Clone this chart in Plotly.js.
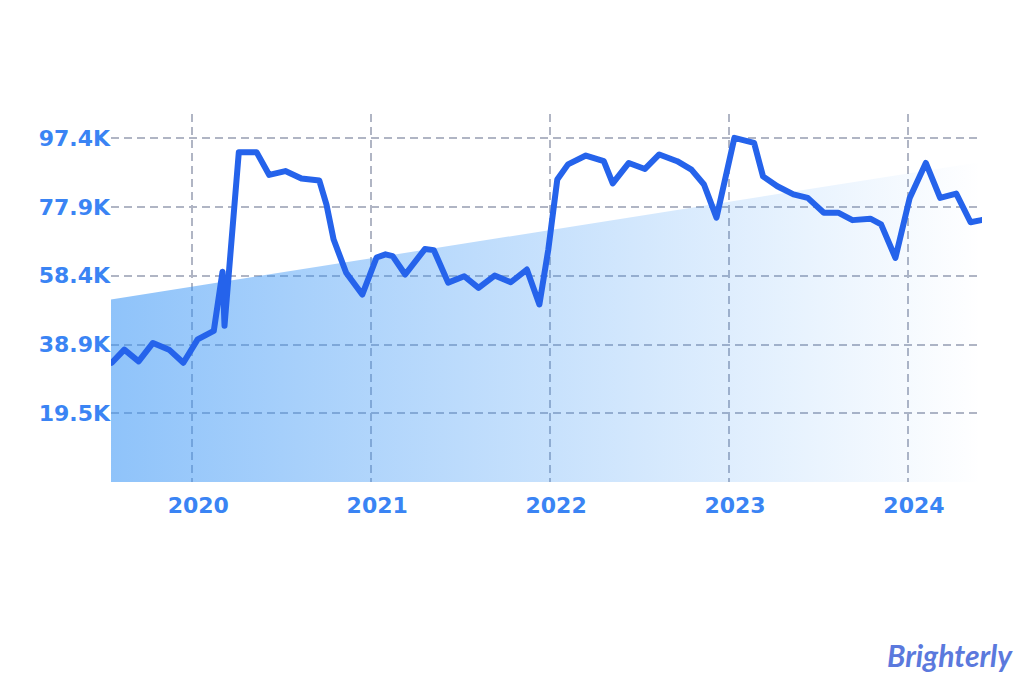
<!DOCTYPE html>
<html>
<head>
<meta charset="utf-8">
<script src="https://cdn.plot.ly/plotly-3.0.1.min.js"></script>
<style>
  html, body { margin: 0; padding: 0; background: #ffffff; }
  #chart { width: 1024px; height: 683px; }
  .scatterlayer path.js-line { stroke-linejoin: round; stroke-linecap: round; }
</style>
</head>
<body>
<div id="chart"></div>
<script>
// Time axis in decimal years
const years = [2019.55, 2019.62, 2019.70, 2019.78, 2019.87, 2019.95,
  2020.03, 2020.12, 2020.169, 2020.180, 2020.26, 2020.36, 2020.43, 2020.52, 2020.61, 2020.71, 2020.75, 2020.79, 2020.86, 2020.91, 2020.95,
  2021.03, 2021.08, 2021.12, 2021.19, 2021.30, 2021.35, 2021.43, 2021.52, 2021.60, 2021.69, 2021.78, 2021.87, 2021.94, 2021.99,
  2022.04, 2022.10, 2022.20, 2022.30, 2022.35, 2022.44, 2022.53, 2022.61, 2022.71, 2022.79, 2022.86, 2022.93,
  2023.03, 2023.14, 2023.19, 2023.27, 2023.36, 2023.44, 2023.53, 2023.61, 2023.69, 2023.79, 2023.85, 2023.93,
  2024.01, 2024.10, 2024.18, 2024.27, 2024.35, 2024.41];

// Series values in thousands
const values = [33.8, 37.5, 34.2, 39.4, 37.5, 33.8,
  40.4, 42.8, 59.6, 44.3, 93.4, 93.4, 87.0, 88.1, 86.0, 85.4, 78.6, 68.7, 59.3, 56.0, 53.1,
  63.6, 64.5, 64.0, 58.8, 66.0, 65.7, 56.5, 58.3, 55.0, 58.5, 56.6, 60.2, 50.3, 65.9,
  85.7, 90.0, 92.5, 90.9, 84.6, 90.4, 88.7, 92.8, 90.9, 88.5, 84.3, 74.9,
  97.5, 96.1, 86.6, 83.8, 81.5, 80.5, 76.3, 76.3, 74.2, 74.6, 73.0, 63.5,
  80.5, 90.4, 80.5, 81.7, 73.6, 74.2];

// Trend band (start / end)
const trendYears = [2019.54, 2024.41];
const trendValues = [51.7, 90.7];

// Tick labels
const xTickVals = [2020, 2021, 2022, 2023, 2024];
const xTickText = ['2020', '2021', '2022', '2023', '2024'];
const yTickVals = [19.48, 38.96, 58.44, 77.92, 97.4];
const yTickText = ['19.5K', '38.9K', '58.4K', '77.9K', '97.4K'];

const tickColor = '#3A84F4';
const gridColor = '#B0B5C4';

const traces = [
  {
    x: trendYears, y: trendValues,
    type: 'scatter', mode: 'none',
    fill: 'tozeroy',
    fillgradient: {
      type: 'horizontal',
      colorscale: [[0, 'rgba(55,148,246,0.56)'], [1, 'rgba(55,148,246,0)']]
    },
    hoverinfo: 'skip', showlegend: false
  },
  {
    x: years, y: values,
    type: 'scatter', mode: 'lines',
    line: { color: '#2563EB', width: 6, shape: 'linear' },
    showlegend: false
  }
];

const layout = {
  width: 1024, height: 683,
  paper_bgcolor: '#ffffff', plot_bgcolor: 'rgba(0,0,0,0)',
  margin: { l: 111, r: 42, t: 114, b: 201, pad: 0 },
  font: { family: 'DejaVu Sans', color: tickColor },
  showlegend: false,
  xaxis: {
    range: [2019.5456, 2024.414],
    tickvals: xTickVals, ticktext: xTickText,
    showgrid: true, gridcolor: gridColor, gridwidth: 2, griddash: '8px,5px',
    zeroline: false, showline: false, ticks: '',
    ticklabelstandoff: 8, ticklabelshift: 6,
    tickfont: { family: 'DejaVu Sans', size: 22, weight: 'bold', color: tickColor },
    fixedrange: true
  },
  yaxis: {
    range: [0, 104.27],
    tickvals: yTickVals, ticktext: yTickText,
    showgrid: true, gridcolor: gridColor, gridwidth: 2, griddash: '8px,5px',
    zeroline: false, showline: false, ticks: '',
    ticklabelstandoff: 0,
    tickfont: { family: 'DejaVu Sans', size: 22, weight: 'bold', color: tickColor },
    fixedrange: true
  },
  annotations: [
    {
      text: 'Brighterly', xref: 'paper', yref: 'paper',
      x: 0.963, y: -0.47, xanchor: 'center', yanchor: 'middle',
      showarrow: false,
      font: { family: 'Lato', size: 30, weight: 'bold', style: 'italic', color: '#5B79DD' }
    }
  ]
};

Plotly.newPlot('chart', traces, layout, { displayModeBar: false, staticPlot: true });
</script>
</body>
</html>
